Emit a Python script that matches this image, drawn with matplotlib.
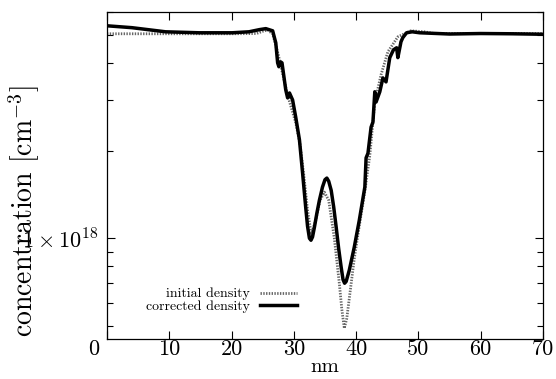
import numpy as np
import matplotlib
matplotlib.use("Agg")
import matplotlib.pyplot as plt
import matplotlib.transforms as mtransforms
from matplotlib.ticker import LogLocator, NullFormatter, FixedLocator

# --- data (x in nm, concentration in cm^-3) ---
x_init = [0.0, 10.0, 20.0, 24.0, 25.0, 25.8, 26.6, 27.5, 28.3, 29.0, 29.6,
          30.3, 31.0, 31.6, 32.2, 32.8, 33.5, 34.2, 34.9, 35.6, 36.5, 37.3,
          37.7, 38.1, 38.5, 38.9, 39.7, 40.5, 41.4, 42.2, 43.0, 44.0, 45.1,
          46.7, 48.8, 51.0, 52.5, 60.0, 70.0]
y_init = [5.05e18, 5.05e18, 5.05e18, 5.06e18, 5.15e18, 5.20e18, 5.05e18,
          4.28e18, 3.60e18, 3.10e18, 2.81e18, 2.50e18, 2.10e18, 1.65e18,
          1.25e18, 1.03e18, 1.15e18, 1.35e18, 1.44e18, 1.35e18, 1.00e18,
          0.70e18, 0.57e18, 0.49e18, 0.53e18, 0.62e18, 0.85e18, 1.10e18,
          1.45e18, 1.93e18, 2.94e18, 3.65e18, 4.38e18, 4.93e18, 5.17e18,
          5.13e18, 5.06e18, 5.06e18, 5.06e18]

x_corr = [0.0, 4.0, 9.4, 14.8, 20.1, 22.8, 24.5, 25.5, 26.6, 27.1, 27.4,
          27.6, 27.9, 28.1, 28.7, 29.0, 29.3, 29.8, 30.3, 30.9, 31.4, 31.9,
          32.2, 32.5, 32.75, 33.0, 33.3, 33.7, 34.1, 34.6, 35.0, 35.3, 35.6,
          36.0, 36.4, 36.8, 37.2, 37.6, 37.9, 38.15, 38.4, 38.9, 39.7, 40.5,
          41.4, 41.6, 41.9, 42.4, 42.7, 43.0, 43.2, 43.8, 44.3, 44.8, 45.4,
          46.0, 46.5, 46.7, 47.2, 47.5, 48.1, 49.0, 50.2, 55.0, 60.0, 65.0,
          70.0]
y_corr = [5.38e18, 5.30e18, 5.13e18, 5.09e18, 5.09e18, 5.13e18, 5.22e18,
          5.26e18, 5.17e18, 4.70e18, 4.01e18, 3.89e18, 4.04e18, 4.01e18,
          3.24e18, 3.04e18, 3.16e18, 2.99e18, 2.61e18, 2.18e18, 1.68e18,
          1.28e18, 1.10e18, 1.00e18, 0.984e18, 1.01e18, 1.09e18, 1.22e18,
          1.35e18, 1.50e18, 1.59e18, 1.61e18, 1.57e18, 1.46e18, 1.28e18,
          1.09e18, 0.92e18, 0.794e18, 0.72e18, 0.70e18, 0.71e18, 0.776e18,
          0.931e18, 1.15e18, 1.50e18, 1.89e18, 1.96e18, 2.41e18, 2.51e18,
          3.19e18, 2.94e18, 3.19e18, 3.56e18, 3.45e18, 4.18e18, 4.45e18,
          4.52e18, 4.18e18, 4.74e18, 4.90e18, 5.09e18, 5.13e18, 5.09e18,
          5.04e18, 5.06e18, 5.05e18, 5.03e18]

x_ticks = [0, 10, 20, 30, 40, 50, 60, 70]

plt.rcParams['font.family'] = 'cmr10'
plt.rcParams['mathtext.fontset'] = 'cm'
plt.rcParams['axes.unicode_minus'] = False

fig = plt.figure(figsize=(5.56, 3.79), dpi=100)
ax = fig.add_axes([0.1924, 0.1055, 0.7842, 0.8628])

ax.plot(x_init, y_init, color='0.4', lw=2.0, linestyle=(0, (0.5, 0.5)),
        label='initial density')
ax.plot(x_corr, y_corr, color='black', lw=2.5, label='corrected density')

ax.set_yscale('log')
ax.set_xlim(0, 70)
ax.set_ylim(4.5e17, 6.0e18)

ax.xaxis.set_major_locator(FixedLocator(x_ticks))
ax.set_xticklabels([str(t) for t in x_ticks])
ax.yaxis.set_major_locator(FixedLocator([1e18]))
ax.set_yticklabels([r'$1\times10^{18}$'])
ax.yaxis.set_minor_locator(LogLocator(base=10, subs=np.arange(2, 10)))
ax.yaxis.set_minor_formatter(NullFormatter())

ax.tick_params(which='both', direction='in', top=True, right=True,
               labelsize=16, width=0.8)
ax.tick_params(which='major', length=6)
ax.tick_params(axis='x', which='major', pad=0)
ax.tick_params(axis='y', which='major', pad=6)
ax.tick_params(which='minor', length=4)
for sp in ax.spines.values():
    sp.set_linewidth(0.9)

# gnuplot puts the "0" label a bit to the left
lab0 = ax.get_xticklabels()[0]
lab0.set_transform(lab0.get_transform() +
                   mtransforms.ScaledTranslation(-0.13, 0, fig.dpi_scale_trans))

ax.set_xlabel('nm', fontsize=15, labelpad=0)
fig.text(24 / 556, 1 - 211 / 379, r'concentration [cm$^{-3}$]',
         rotation=90, ha='center', va='center', fontsize=20)

ax.legend(loc='center right', bbox_to_anchor=(0.436, 0.118), frameon=False,
          markerfirst=False, fontsize=10, handlelength=2.7,
          handletextpad=0.7, labelspacing=0.0, borderpad=0,
          borderaxespad=0)

fig.savefig('out.png', dpi=100)
